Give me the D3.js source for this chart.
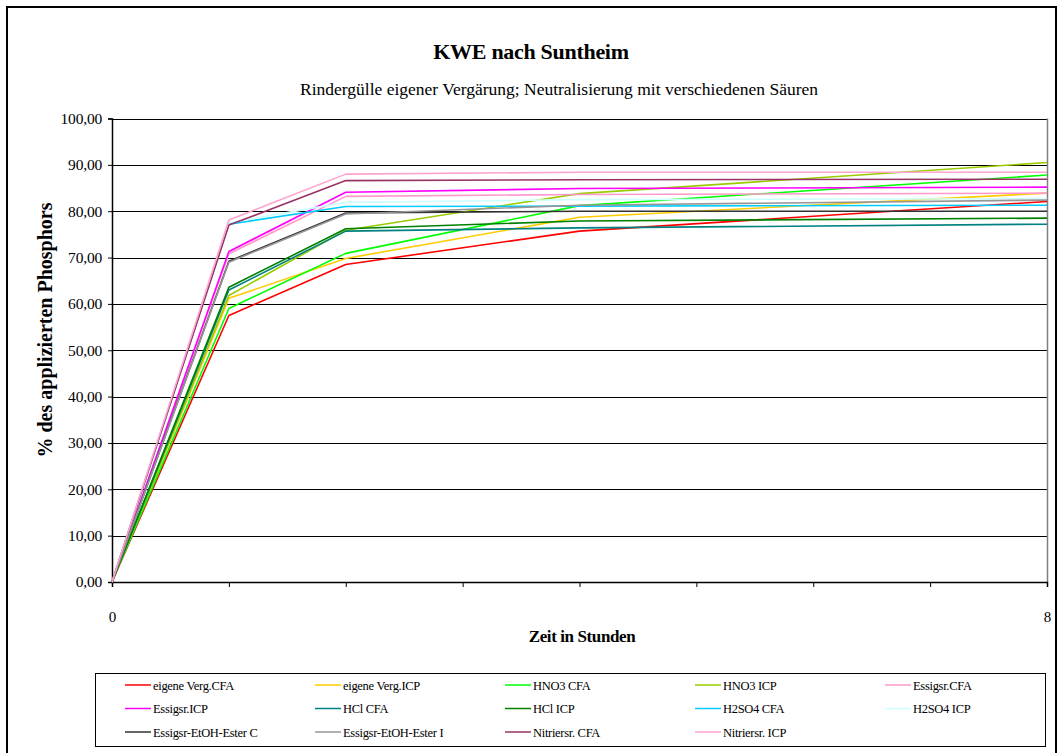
<!DOCTYPE html>
<html>
<head>
<meta charset="utf-8">
<script src="https://cdn.jsdelivr.net/npm/d3@7"></script>
<style>
  html, body { margin: 0; padding: 0; background: #fff; }
  svg { display: block; font-family: "Liberation Serif", "Times New Roman", serif; }
</style>
</head>
<body>
<svg id="chart" width="1063" height="753"></svg>
<script>
// Sampling times (hours)
const hours = [0, 1, 2, 4, 8];

// Share of applied phosphorus (%) per treatment
const eigeneVergCFA = [0, 57.5, 68.5, 75.7, 82.1];
const eigeneVergICP = [0, 61.2, 69.8, 78.7, 83.9];
const hno3CFA       = [0, 59.0, 70.9, 81.2, 87.8];
const hno3ICP       = [0, 61.8, 75.9, 83.8, 90.5];
const essigCFA      = [0, 70.8, 83.2, 83.6, 83.9];
const essigICP      = [0, 71.3, 84.1, 84.9, 85.2];
const hclCFA        = [0, 63.0, 75.7, 76.4, 77.2];
const hclICP        = [0, 63.6, 76.2, 77.9, 78.5];
const h2so4CFA      = [0, 77.2, 81.0, 81.1, 81.3];
const h2so4ICP      = [0, 77.5, 81.9, 82.5, 82.7];
const esterC        = [0, 69.2, 79.6, 80.0, 80.0];
const esterI        = [0, 69.0, 79.4, 81.3, 82.4];
const nitrCFA       = [0, 77.0, 86.6, 86.8, 86.9];
const nitrICP       = [0, 78.1, 88.0, 88.4, 88.4];

const seriesNames = [
  "eigene Verg.CFA", "eigene Verg.ICP", "HNO3 CFA", "HNO3 ICP", "Essigsr.CFA",
  "Essigsr.ICP", "HCl CFA", "HCl ICP", "H2SO4 CFA", "H2SO4 ICP",
  "Essigsr-EtOH-Ester C", "Essigsr-EtOH-Ester I", "Nitriersr. CFA", "Nitriersr. ICP"
];
const seriesValues = [
  eigeneVergCFA, eigeneVergICP, hno3CFA, hno3ICP, essigCFA,
  essigICP, hclCFA, hclICP, h2so4CFA, h2so4ICP,
  esterC, esterI, nitrCFA, nitrICP
];
const seriesColors = [
  "#FF0000", "#FFCC00", "#00FF00", "#99CC00", "#FF99CC",
  "#FF00FF", "#008080", "#008000", "#00CCFF", "#CCFFFF",
  "#333333", "#969696", "#993366", "#FFA3CF"
];

const yTicks = [0, 10, 20, 30, 40, 50, 60, 70, 80, 90, 100];
const xTicks = [0, 1, 2, 3, 4, 5, 6, 7, 8];
const xLabels = [0, 8];

const title = "KWE nach Suntheim";
const subtitle = "Rindergülle eigener Vergärung; Neutralisierung mit verschiedenen Säuren";
const xTitle = "Zeit in Stunden";
const yTitle = "% des applizierten Phosphors";

const svg = d3.select("#chart");

// outer chart frame
svg.append("rect")
  .attr("x", 7).attr("y", 7).attr("width", 1049).attr("height", 770)
  .attr("fill", "#fff").attr("stroke", "#000").attr("stroke-width", 2);

const plot = { left: 112, right: 1047, top: 118.5, bottom: 582 };

const x = d3.scaleLinear().domain([0, 8]).range([plot.left, plot.right]);
const y = d3.scaleLinear().domain([0, 100]).range([plot.bottom, plot.top]);

// titles
svg.append("text").attr("x", 531).attr("y", 59)
  .attr("text-anchor", "middle").attr("font-weight", "bold")
  .attr("font-size", 22).attr("letter-spacing", -0.3).text(title);
svg.append("text").attr("x", 559).attr("y", 95)
  .attr("text-anchor", "middle").attr("font-size", 17.5)
  .text(subtitle);

// horizontal gridlines
svg.append("g").selectAll("line").data(yTicks.filter(d => d > 0)).join("line")
  .attr("x1", plot.left).attr("x2", plot.right)
  .attr("y1", d => Math.round(y(d)) + 0.5).attr("y2", d => Math.round(y(d)) + 0.5)
  .attr("stroke", "#000").attr("stroke-width", 1);

// right border of plot area
svg.append("line")
  .attr("x1", plot.right + 0.5).attr("x2", plot.right + 0.5)
  .attr("y1", y(100)).attr("y2", plot.bottom)
  .attr("stroke", "#808080").attr("stroke-width", 1.5);

// y axis
const yAxis = d3.axisLeft(y).tickValues(yTicks).tickSize(4).tickPadding(6)
  .tickFormat(d => d3.format(".2f")(d).replace(".", ","));
const gy = svg.append("g").attr("transform", `translate(${plot.left},0)`).call(yAxis);
gy.select(".domain").attr("stroke", "#000").attr("stroke-width", 1.5);
gy.selectAll(".tick line").attr("stroke", "#000");
gy.selectAll(".tick text").attr("font-family", "Liberation Serif").attr("font-size", 15.5)
  .attr("fill", "#000").attr("letter-spacing", -0.2);

// x axis
const xAxis = d3.axisBottom(x).tickValues(xTicks).tickSize(5).tickPadding(24)
  .tickFormat(d => xLabels.includes(d) ? String(d) : "");
const gx = svg.append("g").attr("transform", `translate(0,${plot.bottom})`).call(xAxis);
gx.select(".domain").attr("stroke", "#000").attr("stroke-width", 1.5);
gx.selectAll(".tick line").attr("stroke", "#000");
gx.selectAll(".tick text").attr("font-family", "Liberation Serif").attr("font-size", 15)
  .attr("fill", "#000");

// axis titles
svg.append("text").attr("x", 582).attr("y", 642)
  .attr("text-anchor", "middle").attr("font-weight", "bold")
  .attr("font-size", 17).attr("letter-spacing", -0.4).text(xTitle);
svg.append("text")
  .attr("transform", "translate(52,330) rotate(-90)")
  .attr("text-anchor", "middle").attr("font-weight", "bold")
  .attr("font-size", 20).text(yTitle);

// series lines
const line = d3.line().x((d, i) => x(hours[i])).y(d => y(d));
svg.append("g").selectAll("path").data(seriesValues).join("path")
  .attr("d", d => line(d))
  .attr("fill", "none")
  .attr("stroke", (d, i) => seriesColors[i])
  .attr("stroke-width", 1.6)
  .attr("stroke-linejoin", "round");

// legend
const legend = { left: 95, top: 673, width: 950, height: 73 };
svg.append("rect")
  .attr("x", legend.left + 0.5).attr("y", legend.top + 0.5)
  .attr("width", legend.width).attr("height", legend.height)
  .attr("fill", "#fff").attr("stroke", "#000").attr("stroke-width", 1);

const li = svg.append("g").selectAll("g").data(seriesNames).join("g")
  .attr("transform", (d, i) => `translate(${125 + (i % 5) * 190},${685 + Math.floor(i / 5) * 23.5})`);
li.append("line").attr("x1", 0).attr("x2", 26).attr("y1", 0).attr("y2", 0)
  .attr("stroke", (d, i) => seriesColors[i]).attr("stroke-width", 1.5);
li.append("text").attr("x", 28).attr("y", 4.5)
  .attr("font-size", 12.5).attr("letter-spacing", -0.3).text(d => d);
</script>
</body>
</html>
